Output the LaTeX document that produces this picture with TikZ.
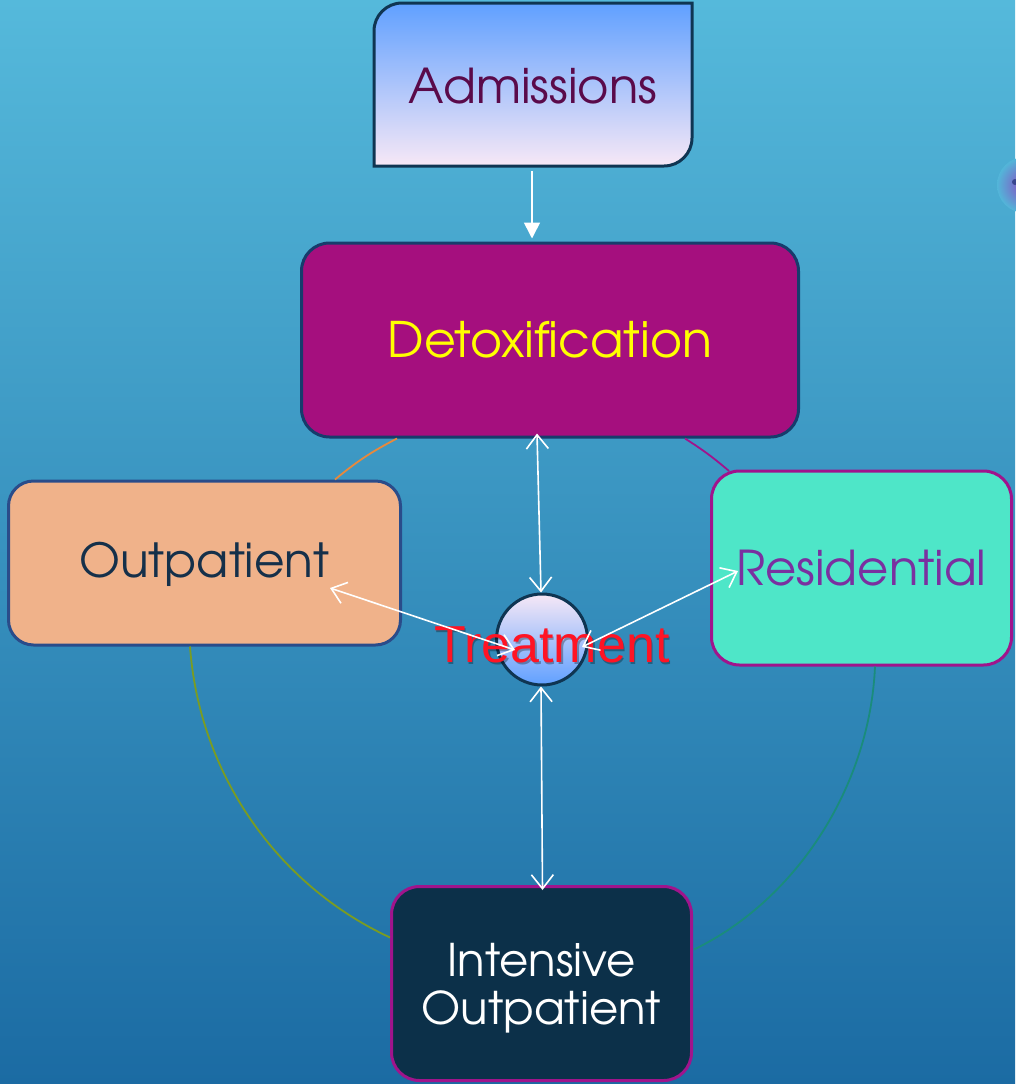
\documentclass[tikz,border=0pt]{standalone}
\usepackage{fontspec}
\setmainfont{Liberation Sans}
\newfontfamily\cg{TeX Gyre Adventor}
\usetikzlibrary{arrows.meta,calc}
\definecolor{bgtop}{HTML}{55B9DB}
\definecolor{bgbot}{HTML}{1B6BA3}
\definecolor{navy}{HTML}{0F3552}
\definecolor{admtop}{HTML}{60A0FF}
\definecolor{admmid}{HTML}{A8C8F0}
\definecolor{admbot}{HTML}{F7E8F6}
\definecolor{admtext}{HTML}{5A0A4A}
\definecolor{detoxfill}{HTML}{A50F7E}
\definecolor{detoxline}{HTML}{163C6C}
\definecolor{detoxtext}{HTML}{FFFF00}
\definecolor{outfill}{HTML}{F0B28A}
\definecolor{outline}{HTML}{2A4C8A}
\definecolor{outtext}{HTML}{15304A}
\definecolor{resfill}{HTML}{4EE6C8}
\definecolor{magline}{HTML}{A0148C}
\definecolor{restext}{HTML}{7A30A0}
\definecolor{iopfill}{HTML}{0C3049}
\definecolor{orangearc}{HTML}{E8893C}
\definecolor{greenarc}{HTML}{7A9C22}
\definecolor{tealarc}{HTML}{1A8C7C}
\definecolor{treatred}{HTML}{FF1424}
\definecolor{glowc}{HTML}{8A48C0}
\definecolor{glowin}{HTML}{2A3A80}
\tikzset{
  box/.style={draw, line width=3pt, rounded corners=28pt, inner sep=0pt,
    text height=34pt, text depth=0pt},
  cgfont/.style={font=\cg\fontsize{#1}{#1}\selectfont},
  arr/.style={draw=white, line width=1.6pt,
    {Straight Barb[length=14pt,width=22pt]}-{Straight Barb[length=14pt,width=22pt]}},
  arcline/.style={line width=1.8pt}
}
\begin{document}
\begin{tikzpicture}[x=1pt,y=-1pt]
\useasboundingbox (0,0) rectangle (1015,1084);
\shade[top color=bgtop,bottom color=bgbot] (0,0) rectangle (1015,1084);
\shade[inner color=glowc, outer color=bgtop!96!bgbot] (1025,185) circle[radius=28];
\fill[glowin, opacity=0.8] (1015,182) circle[radius=3];
% Admissions shape
\path[draw=navy, line width=3pt, top color=admtop, middle color=admmid, bottom color=admbot]
  (374,166) -- (374,31) arc[start angle=180,end angle=270,radius=28] -- (692,3)
  -- (692,138) arc[start angle=0,end angle=90,radius=28] -- cycle;
\node[cgfont=48, text=admtext, minimum width=318pt, minimum height=163pt, inner sep=0pt,
  text height=35pt, text depth=0pt] (adm) at (533,85.5) {Admissions};
% boxes
\node[box, cgfont=49, fill=detoxfill, draw=detoxline, text=detoxtext,
  minimum width=497pt, minimum height=194pt] (detox) at (550,340) {Detoxification};
\node[box, cgfont=47, fill=outfill, draw=outline, text=outtext, rounded corners=25pt,
  minimum width=392pt, minimum height=164pt, text depth=5pt] (outp) at (204.5,563) {Outpatient};
\node[box, cgfont=48, fill=resfill, draw=magline, text=restext,
  minimum width=300pt, minimum height=194pt] (res) at (861.5,568) {Residential};
\node[box, cgfont=45, fill=iopfill, draw=magline, text=white, align=center,
  font=\cg\fontsize{45}{48}\selectfont, text height={}, text depth=0pt,
  minimum width=300pt, minimum height=194pt] (iop) at (541.5,983.5) {Intensive\\Outpatient};
% treatment circle
\node[circle, draw=navy, line width=3pt, minimum size=91pt, inner sep=0pt,
  top color=admbot, bottom color=admtop] (treat) at (542,639.5) {};
\node[font=\fontsize{52}{52}\selectfont, text=black, opacity=0.3, text height=37pt, text depth=0pt]
  (tshadow) at (553.5,645.5) {Treatment};
\node[font=\fontsize{52}{52}\selectfont, text=treatred, text height=37pt, text depth=0pt]
  (ttext) at (552,643.5) {Treatment};
% arcs
\draw[arcline, draw=orangearc] ($(outp.north)+(130.5,0)$) to[bend left=6] ($(detox.south)+(-153,0)$);
\draw[arcline, draw=magline] ($(detox.south)+(135,0)$) to[bend left=4] ($(res.north west)+(19,1.5)$);
\draw[arcline, draw=greenarc] ($(outp.south)+(-14.5,0)$) .. controls +(9,126) and +(-114,-53) .. ($(iop.west)+(0,-46)$);
\draw[arcline, draw=tealarc] ($(res.south)+(13.5,0)$) .. controls +(-5,117) and +(105,-51) .. ($(iop.east)+(1,-34)$);
% arrows
\draw[draw=white, line width=1.6pt, -{Triangle[length=16pt,width=16pt]}]
  ($(adm.south)+(-1,4)$) -- ($(detox.north)+(-18,-3)$);
\draw[arr] ($(detox.south)+(-13,-5)$) -- ($(treat.north)+(-1,0)$);
\draw[arr] ($(treat.south)+(-1,0)$) -- ($(iop.north)+(1,5)$);
\draw[arr] ($(outp.center)+(125.5,25)$) -- ($(treat.center)+(-27,10.5)$);
\draw[arr] ($(treat.center)+(40,7.5)$) -- ($(res.west)+(28,3)$);
\end{tikzpicture}
\end{document}
